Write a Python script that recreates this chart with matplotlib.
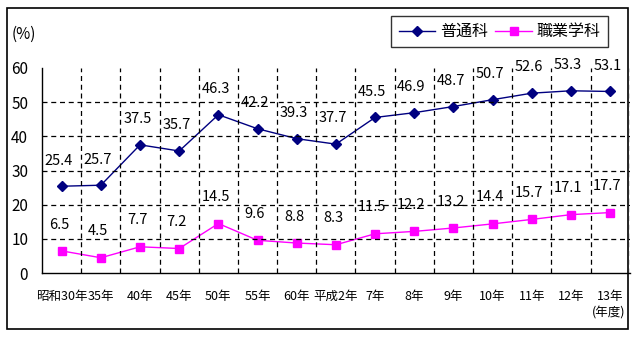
import matplotlib
matplotlib.use("Agg")
import matplotlib.pyplot as plt
from matplotlib.patches import Rectangle

plt.rcParams['font.family'] = ['Noto Sans CJK JP', 'DejaVu Sans']

years = ['昭和30年', '35年', '40年', '45年', '50年', '55年', '60年', '平成2年',
         '7年', '8年', '9年', '10年', '11年', '12年', '13年']
general = [25.4, 25.7, 37.5, 35.7, 46.3, 42.2, 39.3, 37.7,
           45.5, 46.9, 48.7, 50.7, 52.6, 53.3, 53.1]
vocational = [6.5, 4.5, 7.7, 7.2, 14.5, 9.6, 8.8, 8.3,
              11.5, 12.2, 13.2, 14.4, 15.7, 17.1, 17.7]
yticks = [0, 10, 20, 30, 40, 50, 60]

fig = plt.figure(figsize=(6.38, 3.41), dpi=100)
ax = fig.add_axes([0.066, 0.199, 0.921, 0.602])

x = list(range(len(years)))
ax.plot(x, general, color='#000080', lw=1, marker='D', markersize=5.5,
        label='普通科')
ax.plot(x, vocational, color='#FF00FF', lw=1, marker='s', markersize=6,
        label='職業学科')

# value labels above each point
for i in x:
    ax.annotate(f'{general[i]}', (i, general[i]), xytext=(-2, 18.5),
                textcoords='offset points', ha='center', va='center',
                fontsize=10.5)
    ax.annotate(f'{vocational[i]}', (i, vocational[i]), xytext=(-2, 19),
                textcoords='offset points', ha='center', va='center',
                fontsize=10.5)

ax.set_xlim(-0.5, len(years) - 0.5)
ax.set_ylim(0, 60)
ax.set_yticks(yticks)
ax.set_yticklabels([str(v) for v in yticks], fontsize=11)
ax.set_xticks(x)
ax.set_xticklabels(years, fontsize=9)
ax.tick_params(axis='x', length=0, pad=12)
ax.tick_params(axis='y', length=0, pad=10)

# dashed grid: horizontal at 10..50, vertical between categories
for v in yticks[1:-1]:
    ax.axhline(v, color='black', lw=0.9, ls=(0, (4, 3)))
for b in range(1, len(years) + 1):
    ax.axvline(b - 0.5, color='black', lw=0.9, ls=(0, (4, 3)))

for side in ['top', 'right']:
    ax.spines[side].set_visible(False)
ax.spines['left'].set_linewidth(1)
ax.spines['bottom'].set_linewidth(1)

handles, labels = ax.get_legend_handles_labels()
leg = fig.legend(handles, labels, loc='upper right',
                 bbox_to_anchor=(0.953, 0.953), bbox_transform=fig.transFigure,
                 ncol=2, fontsize=11.5, frameon=True, fancybox=False,
                 edgecolor='black', handlelength=2.3, columnspacing=0.45,
                 handletextpad=0.3, borderpad=0.45, borderaxespad=0)
leg.get_frame().set_linewidth(1)

fig.text(0.018, 0.9, '(%)', fontsize=11, va='center', ha='left')
fig.text(0.98, 0.082, '(年度)', fontsize=9, va='center', ha='right')

# outer frame around the whole chart
fig.patches.append(Rectangle((0.011, 0.035), 0.973, 0.941,
                             transform=fig.transFigure, fill=False,
                             edgecolor='black', lw=1.2))

fig.savefig('out.png', dpi=100)
